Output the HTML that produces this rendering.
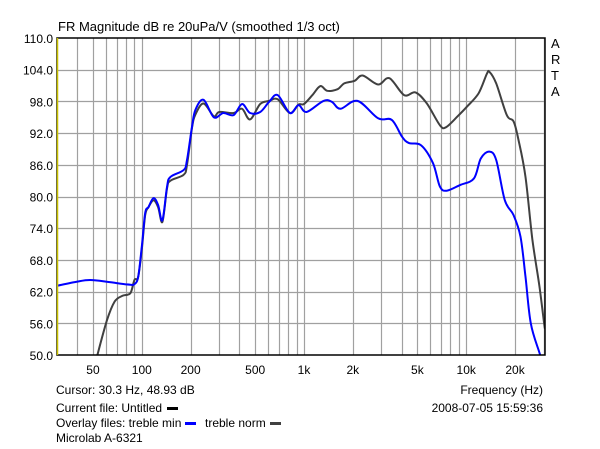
<!DOCTYPE html>
<html><head><meta charset="utf-8"><style>
body{margin:0;background:#fff;}
svg{display:block;font-family:"Liberation Sans",Arial,sans-serif;}
</style></head><body>
<svg id="c" width="600" height="449" viewBox="0 0 600 449">
<rect width="600" height="449" fill="#fff"/>
<text x="58" y="31" font-size="13">FR Magnitude dB re 20uPa/V (smoothed 1/3 oct)</text>
<g font-size="13">
<text x="551" y="48">A</text><text x="551" y="64">R</text><text x="551" y="80">T</text><text x="551" y="96">A</text>
</g>
<g id="grid"></g>
<g id="ylab" font-size="12" text-anchor="end"></g>
<g id="xlab" font-size="12" text-anchor="middle"></g>
<g id="series"></g>
<rect x="57" y="38" width="488" height="317" fill="none" stroke="#000" stroke-width="1.5"/>
<line x1="57.5" y1="38" x2="57.5" y2="355" stroke="#c8c000" stroke-width="1.5"/>
<g font-size="12">
<text x="56" y="394">Cursor: 30.3 Hz, 48.93 dB</text>
<text x="56" y="412">Current file: Untitled</text>
<rect x="167" y="407" width="11" height="3" fill="#000"/>
<text x="56" y="427">Overlay files: treble min</text>
<rect x="185" y="422" width="11" height="3" fill="#0000ff"/>
<text x="205" y="427">treble norm</text>
<rect x="270" y="422" width="11" height="3" fill="#404040"/>
<text x="56" y="442">Microlab A-6321</text>
<text x="543" y="394" text-anchor="end">Frequency (Hz)</text>
<text x="543" y="412" text-anchor="end">2008-07-05  15:59:36</text>
</g>
</svg>
<script>
const yTicks=[50,56,62,68,74,80,86,92,98,104,110];
const xTickVals=[50,100,200,500,1000,2000,5000,10000,20000];
const xTickLabels=["50","100","200","500","1k","2k","5k","10k","20k"];
const minFreq=[30,40,48,60,70,85,90,95,100,105,110,118,126,134,143,150,181,190,204,214,240,278,318,368,415,465,537,609,688,818,925,1036,1318,1487,1678,2138,2862,3478,4025,4437,5260,6240,6880,7580,9200,11160,12300,13870,15300,17300,19560,21600,23200,25000,28300,30000];
const minDb=[63.1,63.9,64.2,63.9,63.6,63.3,63.4,64.8,70.5,76.9,78,79.7,78.4,75.5,81.8,83.7,85,86.9,93.2,96.4,98.3,95,95.8,95.4,97.5,95.8,96,97.9,99.2,95.8,97.3,96,98.1,97.9,96.6,98.1,94.8,94.5,91.3,90.1,89.7,86.3,81.9,81.1,82.2,83.4,87.2,88.5,86.9,79.3,76.5,72.4,64.8,56,50.4,48];
const normFreq=[53,61,68,76,85,90,95,100,105,110,118,126,134,143,150,181,190,204,214,240,278,300,368,415,465,537,609,688,818,925,1000,1127,1260,1390,1610,1770,2050,2300,2862,3360,4140,4870,5720,6880,7490,8800,10100,11900,13400,13900,15300,17800,19600,21000,23200,25600,28300,30200,30600];
const normDb=[49.8,56.6,60.1,61.2,61.7,64.2,64.8,70,76.5,78,79.3,78,75.2,81.5,83,84.1,86,93,95.5,97.6,95.2,96,95.8,96.6,94.6,97.5,98.1,98.4,95.8,97.4,97.5,99.2,100.9,100,100.3,101.4,101.9,102.9,101.2,102.4,99.2,99.7,97.6,93.5,93.1,95.1,97,99.5,103.2,103.6,101.4,95.4,94.2,90.7,83.7,71.8,62.9,56,55];
const NS="http://www.w3.org/2000/svg";
const L=57,R=545,T=38,B=355,FMIN=30,FMAX=30600,YMIN=50,YMAX=110;
const xs=f=>L+(R-L)*Math.log10(f/FMIN)/Math.log10(FMAX/FMIN);
const ys=d=>B-(B-T)*(d-YMIN)/(YMAX-YMIN);
function mk(t,a,p){const e=document.createElementNS(NS,t);for(const k in a)e.setAttribute(k,a[k]);p.appendChild(e);return e;}
const grid=document.getElementById('grid');
const gl=[];
for(let dec=10;dec<=10000;dec*=10)for(let m=1;m<=9;m++){const f=dec*m;if(f>FMIN&&f<FMAX)gl.push(f);}
gl.push(30000);
gl.forEach(f=>{const x=Math.round(xs(f))+0.5;const e=mk('line',{x1:x,x2:x,y1:T,y2:B,stroke:'#a0a0a0','stroke-width':1.2},grid);

});
yTicks.forEach(d=>{const y=Math.round(ys(d))+0.5;if(d>YMIN&&d<YMAX){const e=mk('line',{x1:L,x2:R,y1:y,y2:y,stroke:'#a0a0a0','stroke-width':1.2},grid);

}
const t=mk('text',{x:53,y:ys(d)+5},document.getElementById('ylab'));t.textContent=d.toFixed(1);

});
xTickVals.forEach((f,i)=>{const t=mk('text',{x:xs(f),y:374},document.getElementById('xlab'));t.textContent=xTickLabels[i];

});
const ser=document.getElementById('series');
const cp=mk('clipPath',{id:'cp'},ser);mk('rect',{x:L,y:T,width:R-L,height:B-T},cp);
function line(fr,db,col,name){const P=fr.map((f,i)=>[xs(f),ys(db[i])]);
let d='M'+P[0][0].toFixed(1)+','+P[0][1].toFixed(1);
for(let i=0;i<P.length-1;i++){const p0=P[Math.max(0,i-1)],p1=P[i],p2=P[i+1],p3=P[Math.min(P.length-1,i+2)];
const c1=[p1[0]+(p2[0]-p0[0])/6,p1[1]+(p2[1]-p0[1])/6],c2=[p2[0]-(p3[0]-p1[0])/6,p2[1]-(p3[1]-p1[1])/6];
d+=' C'+c1.map(v=>v.toFixed(1)).join(',')+' '+c2.map(v=>v.toFixed(1)).join(',')+' '+p2.map(v=>v.toFixed(1)).join(',');}
const p=mk('path',{d:d,fill:'none',stroke:col,'stroke-width':2,'stroke-linejoin':'round','clip-path':'url(#cp)'},ser);

}
line(normFreq,normDb,'#404040','treble-norm-line');
line(minFreq,minDb,'#0000ff','treble-min-line');
</script>
</body></html>
